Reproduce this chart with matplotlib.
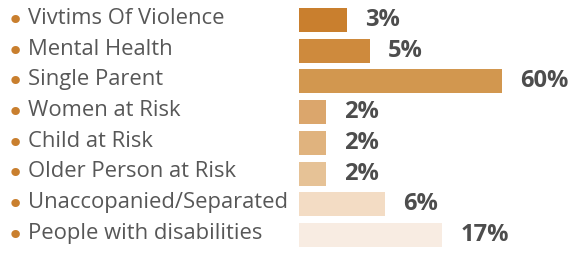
import matplotlib
matplotlib.use("Agg")
import matplotlib.pyplot as plt
import matplotlib.transforms as mtransforms
import numpy as np

# categories, shown labels and the drawn bar lengths (bars are not to scale in the original)
categories = ["Vivtims Of Violence", "Mental Health", "Single Parent", "Women at Risk",
              "Child at Risk", "Older Person at Risk", "Unaccopanied/Separated",
              "People with disabilities"]
pct_labels = ["3%", "5%", "60%", "2%", "2%", "2%", "6%", "17%"]
bar_lengths = [14.2, 21.0, 60.0, 8.0, 8.0, 8.0, 25.4, 42.3]
bar_colors = ["#C97F2E", "#CE8A3D", "#D2974F", "#DBA66C", "#E0B37E", "#E6C296",
              "#F3DCC4", "#F8ECE2"]

W, H = 571, 254
fig = plt.figure(figsize=(W / 100, H / 100), dpi=100)
ax = fig.add_axes([299 / W, 0, 1 - 299 / W, 1])

y = np.arange(len(categories))
ax.barh(y, bar_lengths, height=0.78, color=bar_colors, edgecolor="none")

ax.set_xlim(0, 272 / 203 * 60)
ax.set_ylim(7.62, -0.65)
ax.axis("off")

trans = mtransforms.blended_transform_factory(fig.transFigure, ax.transData)
for i, name in enumerate(categories):
    ax.text(28 / W, i - 0.05, name, transform=trans, ha="left", va="center",
            fontsize=15.8, family="Open Sans", color="#575757")
    ax.text(7 / W, i + 0.03, "\u2022", transform=trans, ha="left", va="center",
            fontsize=21, family="DejaVu Sans", color="#C97F2E")

for i, (v, lab) in enumerate(zip(bar_lengths, pct_labels)):
    ax.annotate(lab, (v, i), xytext=(13, 0), textcoords="offset points",
                ha="left", va="center", fontsize=17, fontweight="bold",
                family="Open Sans", color="#4D4D4D")

fig.savefig("out.png", dpi=100)
